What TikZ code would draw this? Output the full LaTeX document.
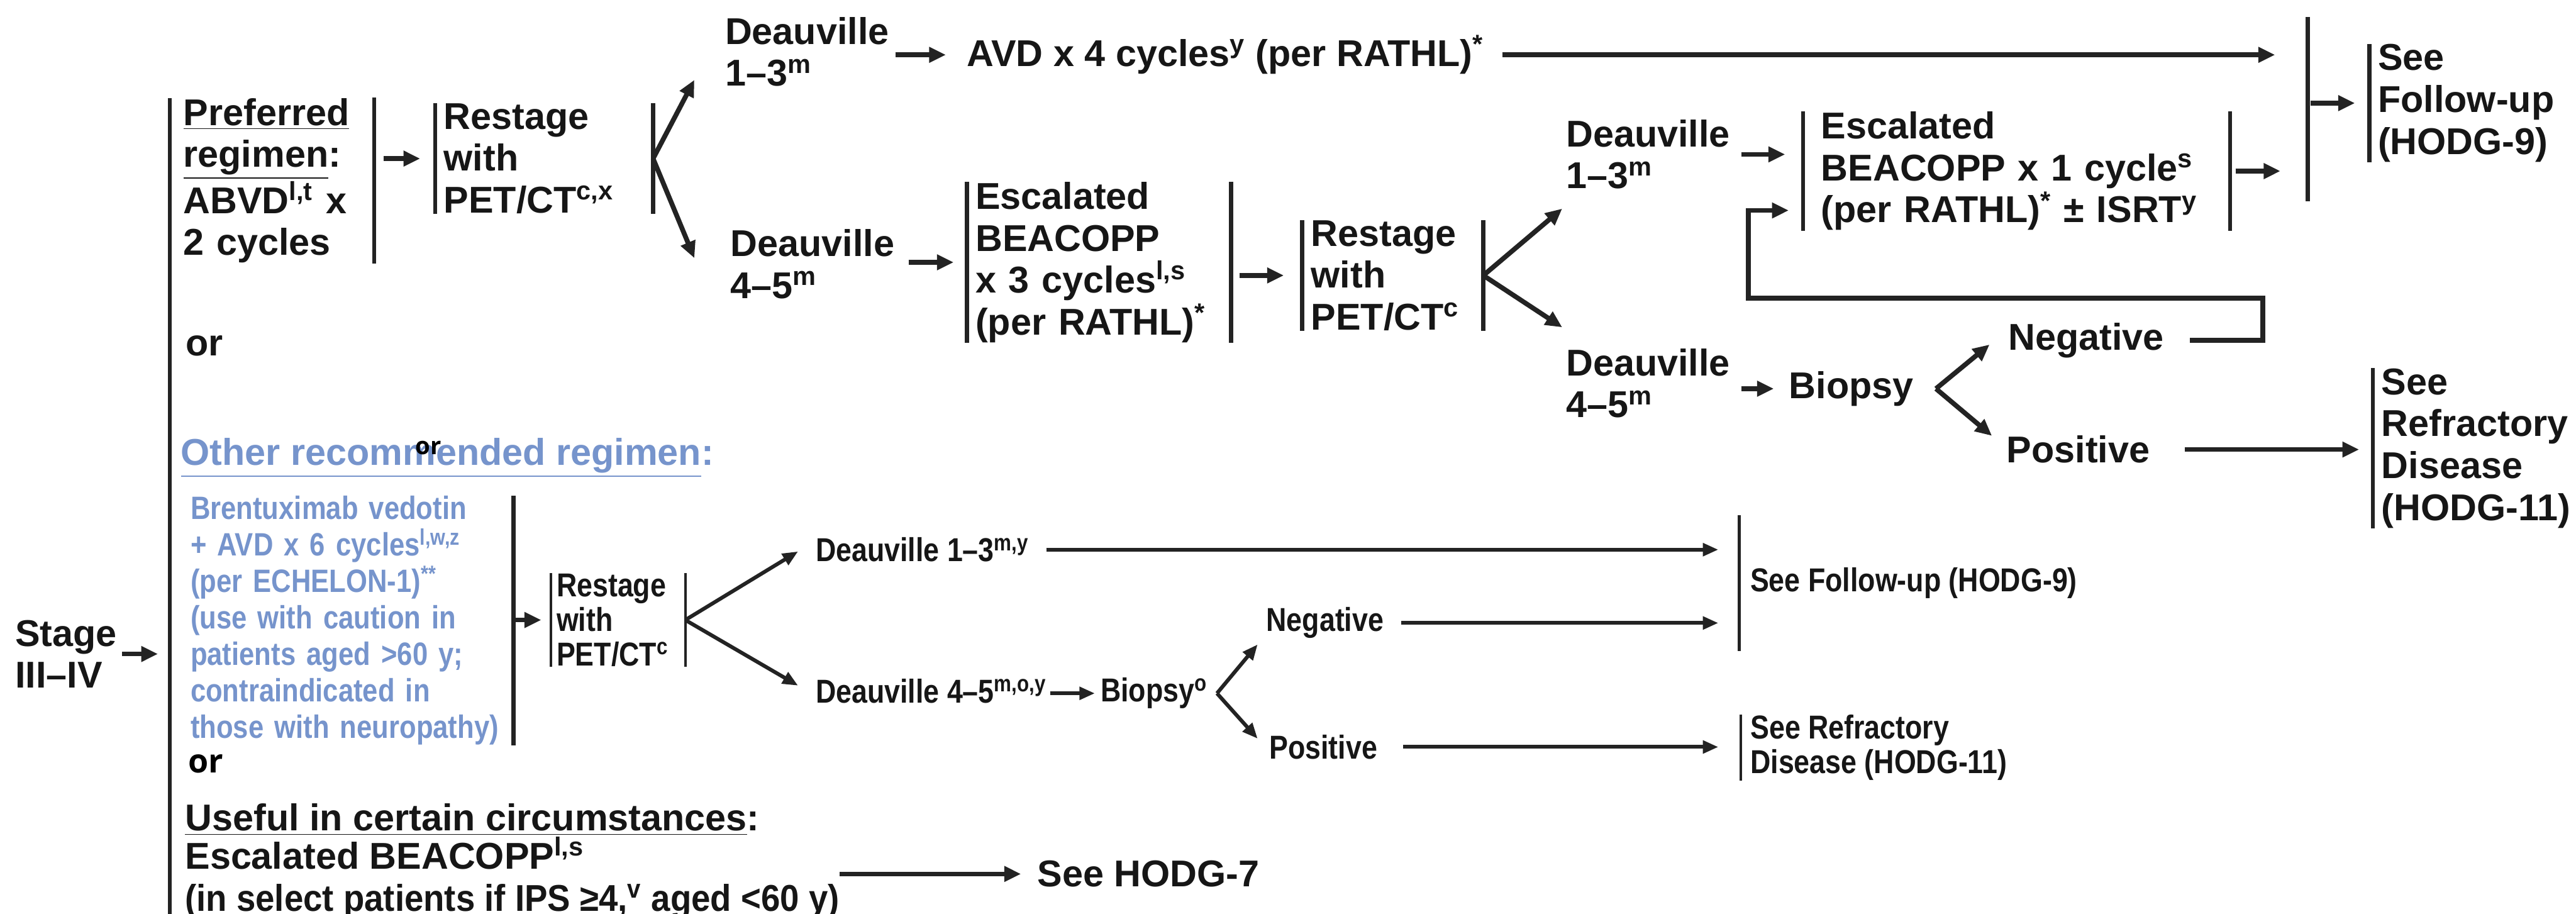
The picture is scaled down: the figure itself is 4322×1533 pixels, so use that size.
\documentclass[tikz,border=0pt]{standalone}
\usepackage{fontspec}
\setmainfont{Liberation Sans}
\newfontfamily\narrowsf[FakeStretch=0.85]{Liberation Sans}
\newfontfamily\semisf[FakeStretch=0.92]{Liberation Sans}
\newfontfamily\orfont{Open Sans}
\usepackage{tikz}
\usetikzlibrary{arrows.meta,positioning,calc}
\definecolor{hdedge}{RGB}{35,35,35}
\definecolor{hdink}{RGB}{22,22,22}
\definecolor{hdblue}{RGB}{118,148,204}
\tikzset{
  hdtxt/.style={
    anchor=west, inner sep=0pt, align=left, text=hdink,
    font=\fontsize{17.8}{20}\selectfont\bfseries
  },
  hdbox/.style={hdtxt, inner xsep=4pt},
  hdlow/.style={hdtxt, font=\narrowsf\fontsize{15.8}{16.5}\selectfont\bfseries},
  hdlbox/.style={hdlow, inner xsep=2.6pt},
  hdblu/.style={hdtxt, text=hdblue, font=\narrowsf\fontsize{15.4}{17.4}\selectfont\bfseries},
  hdor/.style={hdtxt, text=black, font=\orfont\fontsize{#1}{#1}\selectfont\bfseries},
  bar/.style={draw=hdedge, line width=2pt},
  lbar/.style={draw=hdedge, line width=1.3pt},
  arr/.style={-{Triangle[length=2.8mm,width=2.5mm]}, draw=hdedge, line width=2.3pt},
  larr/.style={-{Triangle[length=2.6mm,width=2.1mm]}, draw=hdedge, line width=1.8pt},
  every picture/.append style={line join=miter}
}

\begin{document}
\begin{tikzpicture}[x=0.01cm, y=-0.01cm]
  \useasboundingbox (0,0) rectangle (4322,1533);
  \coordinate (mtop) at (285,165);
  \coordinate (mbot) at (285,1533);
  \coordinate (ctop) at (3872,29);
  \coordinate (cbot) at (3872,338);

  \node[hdtxt] (stage) at (25,1097) {Stage\\III–IV};
  \node[hdbox, text width=3.05cm] (pref) at (293,303) {\underline{Preferred}\\\underline{regimen}:\\ABVD\textsuperscript{l,t} x\\2 cycles};
  \node[hdbox, text width=3.36cm] (restA) at (730,266) {Restage\\with\\PET/CT\textsuperscript{c,x}};
  \node[hdtxt] (d13a) at (1216,87) {Deauville\\1–3\textsuperscript{m}};
  \node[hdtxt] (avd) at (1622,92) {AVD x 4 cycles\textsuperscript{y} (per RATHL)\textsuperscript{*}};
  \node[hdtxt] (d45a) at (1225,443) {Deauville\\4–5\textsuperscript{m}};
  \node[hdbox, text width=4.14cm] (escA) at (1622,440) {Escalated\\BEACOPP\\x 3 cycles\textsuperscript{l,s}\\(per RATHL)\textsuperscript{*}};
  \node[hdbox, text width=2.74cm] (restB) at (2185,462) {Restage\\with\\PET/CT\textsuperscript{c}};
  \node[hdtxt] (d13b) at (2627,259) {Deauville\\1–3\textsuperscript{m}};
  \node[hdbox, inner xsep=8.5pt, text width=6.55cm] (escB) at (3025,287) {Escalated\\BEACOPP x 1 cycle\textsuperscript{s}\\(per RATHL)\textsuperscript{*} ± ISRT\textsuperscript{y}};
  \node[hdtxt] (d45b) at (2627,643) {Deauville\\4–5\textsuperscript{m}};
  \node[hdtxt] (biopsyA) at (3001,652) {Biopsy};
  \node[hdtxt] (negA) at (3369,571) {Negative};
  \node[hdtxt] (posA) at (3366,754) {Positive};
  \node[hdbox] (fuA) at (3975,173) {See\\Follow-up\\(HODG-9)};
  \node[hdbox] (refA) at (3981,752) {See\\Refractory\\Disease\\(HODG-11)};
  \node[hdtxt] (orA) at (311,580) {or};

  \node[hdtxt, text=hdblue] (other) at (303,768) {\underline{Other recommended regimen}:};
  \node[hdor=11.5] (orS) at (696,751) {or};
  \node[hdblu, inner xsep=4pt, text width=5.27cm] (bv) at (305,1041) {Brentuximab vedotin\\+ AVD x 6 cycles\textsuperscript{l,w,z}\\(per ECHELON-1)\textsuperscript{**}\\(use with caution in\\patients aged >60 y;\\contraindicated in\\those with neuropathy)};
  \node[hdlbox, text width=2.06cm] (restC) at (924,1040) {Restage\\with\\PET/CT\textsuperscript{c}};
  \node[hdlow] (d13c) at (1368,922) {Deauville 1–3\textsuperscript{m,y}};
  \node[hdlow] (d45c) at (1368,1159) {Deauville 4–5\textsuperscript{m,o,y}};
  \node[hdlow] (biopsyB) at (1846,1163) {Biopsy\textsuperscript{o}};
  \node[hdlow] (negB) at (2124,1045) {Negative};
  \node[hdlow] (posB) at (2129,1253) {Positive};
  \node[hdlbox, inner xsep=5.1pt, minimum height=2.27cm] (fuB) at (2918,978) {See Follow-up (HODG-9)};
  \node[hdlbox, inner xsep=4.3pt] (refB) at (2921,1254) {See Refractory\\Disease (HODG-11)};

  \node[hdor=15.6] (orB) at (315,1281) {or};
  \node[hdtxt] (useful) at (310,1375) {\underline{Useful in certain circumstances}:};
  \node[hdtxt] (escC) at (310,1473) {Escalated BEACOPP\textsuperscript{l,s}\\{\semisf(in select patients if IPS ≥4,\textsuperscript{v} aged <60 y)}};
  \node[hdtxt] (hodg7) at (1740,1466) {See HODG-7};

  \draw[bar] (mtop) -- (mbot);
  \draw[bar] (ctop) -- (cbot);
  \foreach \n in {restA,escA,restB,escB,fuA,refA} \draw[bar] (\n.north west) -- (\n.south west);
  \foreach \n in {pref,restA,escA,restB,escB,bv} \draw[bar] (\n.north east) -- (\n.south east);
  \foreach \n in {restC,fuB,refB} \draw[lbar] (\n.north west) -- (\n.south west);
  \draw[lbar] (restC.north east) -- (restC.south east);

  \draw[arr, shorten <=0.8mm, shorten >=2mm] (stage.east) -- (stage.east -| mtop);
  \draw[arr, shorten <=1.6mm, shorten >=2.5mm] (pref.east |- restA.west) -- (restA.west);
  \draw[arr] (restA.east) -- ([shift={(-51,47)}]d13a.west);
  \draw[arr] (restA.east) -- ([shift={(-60,-10)}]d45a.west);
  \draw[arr, shorten <=1mm, shorten >=3.5mm] (d13a.east |- avd.west) -- (avd.west);
  \draw[arr, shorten <=3mm, shorten >=5.5mm] (avd.east) -- (avd.east -| ctop);
  \draw[arr, shorten <=2.3mm, shorten >=2.2mm] (d45a.east |- escA.west) -- (escA.west);
  \draw[arr, shorten <=1.4mm, shorten >=3.1mm] (escA.east |- restB.west) -- (restB.west);
  \draw[arr] (restB.east) -- ([shift={(-6,91)}]d13b.west);
  \draw[arr] (restB.east) -- ([shift={(-6,-94)}]d45b.west);
  \draw[arr, shorten <=1.8mm, shorten >=3mm] (d13b.east) -- (d13b.east -| escB.west);
  \draw[arr, shorten <=0.9mm, shorten >=4.6mm] (escB.east) -- (escB.east -| ctop);
  \draw[arr, shorten <=0.5mm, shorten >=2.4mm] (fuA.west -| ctop) -- (fuA.west);
  \draw[arr, shorten <=1.8mm, shorten >=2.5mm] (d45b.east |- biopsyA.west) -- (biopsyA.west);
  \coordinate (k3) at ([shift={(37,0)}]biopsyA.east);
  \draw[arr] (k3) -- ([shift={(-31,7)}]negA.west);
  \draw[arr] (k3) -- ([shift={(-24,-23)}]posA.west);
  \draw[arr] ([shift={(43,0)}]negA.east) -- ++(122,0) -- ++(0,-71) -| ([shift={(-92,66)}]escB.west) -- ([shift={(-24,66)}]escB.west);
  \draw[arr, shorten <=5.8mm, shorten >=2.3mm] (posA.east) -- (posA.east -| refA.west);

  \draw[arr, shorten <=0.2mm, shorten >=1.6mm] (bv.east |- restC.west) -- (restC.west);
  \draw[larr] (restC.east) -- ([shift={(-29,3)}]d13c.west);
  \draw[larr] (restC.east) -- ([shift={(-29,-9)}]d45c.west);
  \draw[larr, shorten <=2.8mm, shorten >=3.5mm] (d13c.east) -- (d13c.east -| fuB.west);
  \draw[larr, shorten <=0.5mm, shorten >=0.9mm] (d45c.east |- biopsyB.west) -- (biopsyB.west);
  \coordinate (k5) at ([shift={(15,0)}]biopsyB.east);
  \draw[larr] (k5) -- ([shift={(-14,36)}]negB.west);
  \draw[larr] (k5) -- ([shift={(-19,-14)}]posB.west);
  \draw[larr, shorten <=2.9mm, shorten >=3.5mm] (negB.east) -- (negB.east -| fuB.west);
  \draw[larr, shorten <=4.3mm, shorten >=3.8mm] (posB.east) -- (posB.east -| refB.west);
  \draw[arr, shorten >=2.7mm] (hodg7.west -| escC.east) -- (hodg7.west);
\end{tikzpicture}
\end{document}
